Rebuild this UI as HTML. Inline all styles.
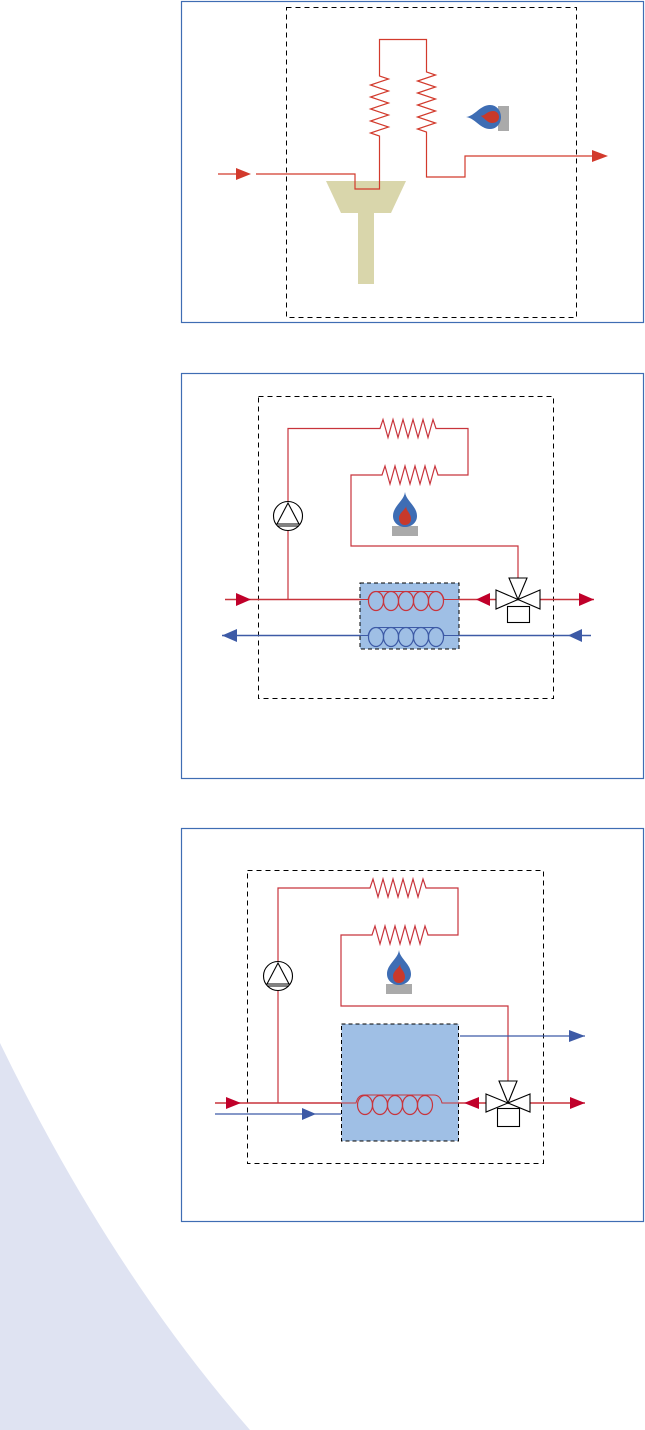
<!DOCTYPE html>
<html><head><meta charset="utf-8"><style>
html,body{margin:0;padding:0;background:#fff;}
svg{display:block;}
</style></head><body>
<svg width="645" height="1430" viewBox="0 0 645 1430" xmlns="http://www.w3.org/2000/svg">
<defs>
<g id="flame">
<path d="M0,-20 C1,-11 12,-6 12,4 C12,11 6,15 0,15 C-6,15 -12,11 -12,4 C-12,-6 -1,-11 0,-20Z" fill="#3e6db4"/>
<path d="M2,-7 C-1,-2 6,0 6,7 C6,11 3,13 0,13 C-4,13 -6,10 -6,6 C-6,1 0,-2 2,-7Z" fill="#c8392b"/>
</g>
<g id="coilR" fill="none" stroke="#c8343c" stroke-width="1.2">
<ellipse cx="0" cy="0" rx="7.5" ry="9.5"/><ellipse cx="15" cy="0" rx="7.5" ry="9.5"/><ellipse cx="30" cy="0" rx="7.5" ry="9.5"/><ellipse cx="45" cy="0" rx="7.5" ry="9.5"/><ellipse cx="60" cy="0" rx="7.5" ry="9.5"/>
</g>
<g id="coilB" fill="none" stroke="#3d5aa6" stroke-width="1.2">
<ellipse cx="0" cy="0" rx="7.5" ry="9.5"/><ellipse cx="15" cy="0" rx="7.5" ry="9.5"/><ellipse cx="30" cy="0" rx="7.5" ry="9.5"/><ellipse cx="45" cy="0" rx="7.5" ry="9.5"/><ellipse cx="60" cy="0" rx="7.5" ry="9.5"/>
</g>
</defs>

<path d="M0,1043 Q110,1270 250,1430 L0,1430Z" fill="#dfe3f2"/>

<!-- Panel 1 -->
<rect x="181.5" y="1.5" width="462" height="321" fill="none" stroke="#3f6db3" stroke-width="1.2"/>
<rect x="286.5" y="7.5" width="290" height="310" fill="none" stroke="#000" stroke-width="1" stroke-dasharray="5,4"/>
<polygon points="326,181 406,181 391,213 341,213" fill="#d9d6ab"/>
<rect x="358" y="212" width="16" height="72" fill="#d9d6ab"/>
<g fill="none" stroke="#d23a2c" stroke-width="1.2">
<path d="M256,174 H355 V189 H379.5 V136 l-9,-3 18,-6 -18,-6 18,-6 -18,-6 18,-6 -18,-6 18,-6 -18,-6 18,-6 -9,-3 V39.5 H426.5 V72 l9,3 -18,6 18,6 -18,6 18,6 -18,6 18,6 -18,6 18,6 -18,6 9,3 V177 H465 V156 H594"/>
<path d="M218,174 H238"/>
</g>
<polygon points="236,168 251,174 236,180" fill="#d23a2c"/>
<polygon points="592,150 608,156 592,162" fill="#d23a2c"/>
<rect x="498" y="106" width="11" height="25" fill="#aaa"/>
<g transform="translate(486,117) rotate(-90)"><use href="#flame"/></g>

<!-- Panel 2 -->
<rect x="181.5" y="373.5" width="462" height="405" fill="none" stroke="#3f6db3" stroke-width="1.2"/>
<rect x="258.5" y="396.5" width="295" height="302" fill="none" stroke="#000" stroke-width="1" stroke-dasharray="5,4"/>
<g fill="none" stroke="#c8343c" stroke-width="1.2">
<path d="M288,599.5 V428.5 H380 l3,-9 5,18 5,-18 5,18 5,-18 5,18 5,-18 5,18 5,-18 5,18 5,-18 3,9 H468 V475 H438 l-3,-9 -5,18 -5,-18 -5,18 -5,-18 -5,18 -5,-18 -5,18 -5,-18 -5,18 -5,-18 -3,9 H351 V546 H518 V578"/>
</g>
<rect x="360" y="583" width="99" height="66" fill="#9fbfe5" stroke="#000" stroke-width="1" stroke-dasharray="4,3"/>
<g fill="none" stroke="#c8343c" stroke-width="1.4">
<path d="M225,599.5 H360 M459,599.5 H496 M540,599.5 H594"/>
<path d="M360,599.5 h8 q2,-8 8,-8 h60 q6,0 8,8 h15" stroke-width="1"/>
</g>
<use href="#coilR" x="376" y="601"/>
<g fill="none" stroke="#3d5aa6" stroke-width="1.4">
<path d="M222,635.5 H360 M459,635.5 H591"/>
<path d="M360,635.5 h8 q2,-8 8,-8 h60 q6,0 8,8 h15" stroke-width="1"/>
</g>
<use href="#coilB" x="376" y="637"/>
<polygon points="236,593 251,599.5 236,606" fill="#c0002a"/>
<polygon points="579,593 594,599.5 579,606" fill="#c0002a"/>
<polygon points="490,593 476,599.5 490,606" fill="#c0002a"/>
<polygon points="237,629 222,635.5 237,642" fill="#3d5aa6"/>
<polygon points="582,629 568,635.5 582,642" fill="#3d5aa6"/>
<g fill="#fff" stroke="#000" stroke-width="1.1">
<polygon points="496,590 518,599.5 496,609"/>
<polygon points="540,590 518,599.5 540,609"/>
<polygon points="509,578 527,578 518,599.5"/>
<rect x="507.5" y="606.5" width="22" height="16"/>
<circle cx="288" cy="516" r="14.5"/>
<path d="M277,524 L288,503 L299,524 Z M277,526 H299" fill="none"/>
</g>
<rect x="392" y="526" width="26" height="10" fill="#aaa"/>
<use href="#flame" x="405" y="512"/>

<!-- Panel 3 -->
<rect x="181.5" y="828.5" width="462" height="393" fill="none" stroke="#3f6db3" stroke-width="1.2"/>
<rect x="247.5" y="870.5" width="296" height="293" fill="none" stroke="#000" stroke-width="1" stroke-dasharray="5,4"/>
<g fill="none" stroke="#c8343c" stroke-width="1.2">
<path d="M278,1103 V888 H370 l3,-9 5,18 5,-18 5,18 5,-18 5,18 5,-18 5,18 5,-18 5,18 5,-18 3,9 H458 V935 H428 l-3,-9 -5,18 -5,-18 -5,18 -5,-18 -5,18 -5,-18 -5,18 -5,-18 -5,18 -5,-18 -3,9 H341 V1006 H508 V1081"/>
</g>
<rect x="341.5" y="1024" width="117" height="117" fill="#9fbfe5" stroke="#000" stroke-width="1" stroke-dasharray="4,3"/>
<g fill="none" stroke="#c8343c" stroke-width="1.4">
<path d="M215,1103 H341 M458,1103 H486 M530,1103 H585"/>
<path d="M341,1103 h15 q2,-8 8,-8 h70 q6,0 8,8 h16" stroke-width="1"/>
</g>
<use href="#coilR" x="365" y="1105"/>
<g fill="none" stroke="#3d5aa6" stroke-width="1.2">
<path d="M215,1114 H341 M460,1036 H585"/>
</g>
<polygon points="226,1097 241,1103 226,1109" fill="#c0002a"/>
<polygon points="570,1097 585,1103 570,1109" fill="#c0002a"/>
<polygon points="479,1097 464,1103 479,1109" fill="#c0002a"/>
<polygon points="302,1108 316,1114 302,1120" fill="#3d5aa6"/>
<polygon points="569,1030 585,1036 569,1042" fill="#3d5aa6"/>
<g fill="#fff" stroke="#000" stroke-width="1.1">
<polygon points="486,1094 508,1103 486,1112"/>
<polygon points="530,1094 508,1103 530,1112"/>
<polygon points="499,1081 517,1081 508,1103"/>
<rect x="497.5" y="1108.5" width="22" height="18"/>
<circle cx="278" cy="976" r="14.5"/>
<path d="M267,984 L278,963 L289,984 Z M267,986 H289" fill="none"/>
</g>
<rect x="386" y="984" width="26" height="10" fill="#aaa"/>
<use href="#flame" x="399" y="970"/>
</svg>
</body></html>
